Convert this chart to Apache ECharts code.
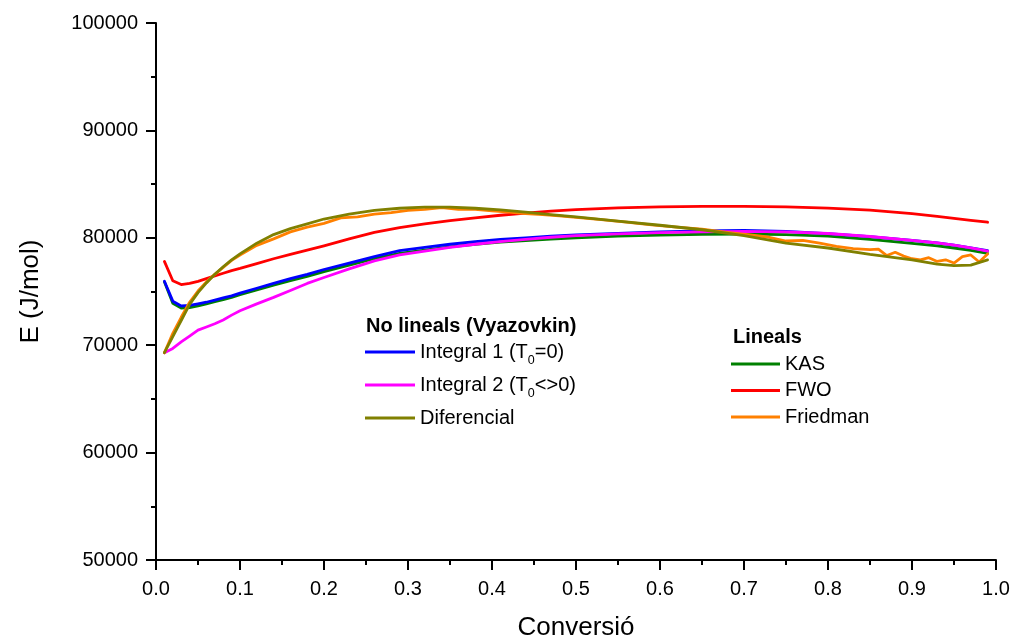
<!DOCTYPE html>
<html>
<head>
<meta charset="utf-8">
<script src="https://cdn.jsdelivr.net/npm/echarts@6/dist/echarts.min.js"></script>
<style>html,body{margin:0;padding:0;background:#fff}#c{width:1013px;height:637px}</style>
</head>
<body>
<div id="c"></div>
<script>
const X = [0.01,0.02,0.03,0.04,0.05,0.06,0.07,0.08,0.09,0.10,0.12,0.14,0.16,0.18,0.20,0.23,0.26,0.29,0.32,0.35,0.38,0.41,0.44,0.47,0.50,0.55,0.60,0.65,0.70,0.75,0.80,0.85,0.90,0.93,0.95,0.97,0.99];
const integral1 = [75950,74100,73650,73700,73850,74000,74200,74400,74600,74850,75300,75750,76200,76600,77050,77650,78250,78800,79100,79400,79650,79850,80000,80150,80280,80420,80550,80650,80680,80600,80380,80100,79770,79520,79320,79060,78800];
const integral2 = [69300,69700,70300,70850,71400,71700,72000,72350,72800,73200,73850,74450,75100,75750,76300,77100,77850,78400,78750,79100,79400,79650,79850,80050,80200,80370,80480,80560,80600,80550,80400,80120,79770,79520,79320,79060,78750];
const diferencial = [69300,70800,72300,73800,74900,75800,76600,77300,77950,78500,79500,80300,80850,81300,81750,82200,82550,82750,82850,82850,82750,82600,82400,82150,81950,81550,81170,80750,80200,79500,79050,78450,77950,77550,77400,77450,77950];
const kas = [75900,73900,73450,73500,73650,73850,74050,74250,74450,74700,75150,75600,76000,76400,76850,77450,78050,78550,78850,79150,79400,79600,79750,79880,80000,80150,80250,80330,80350,80300,80150,79850,79480,79250,79050,78820,78560];
const fwo = [77800,76000,75650,75750,75950,76200,76450,76700,76950,77150,77600,78050,78450,78850,79250,79900,80500,80950,81300,81600,81850,82100,82300,82480,82620,82780,82880,82930,82930,82880,82760,82580,82250,82000,81800,81620,81450];
const friedmanX = [0.01,0.02,0.03,0.04,0.05,0.06,0.07,0.08,0.09,0.10,0.12,0.14,0.16,0.18,0.20,0.22,0.24,0.26,0.28,0.30,0.32,0.34,0.36,0.38,0.40,0.42,0.44,0.46,0.48,0.50,0.53,0.56,0.59,0.62,0.65,0.68,0.71,0.73,0.75,0.77,0.79,0.81,0.83,0.85,0.86,0.87,0.88,0.89,0.90,0.91,0.92,0.93,0.94,0.95,0.96,0.97,0.98,0.99];
const friedman = [69300,71100,72600,74000,75050,75900,76600,77250,77900,78400,79300,79900,80550,81000,81350,81850,81950,82200,82350,82550,82650,82800,82650,82650,82500,82400,82250,82150,82050,81900,81700,81450,81200,81000,80800,80500,80250,80050,79700,79750,79500,79200,79000,78900,78950,78350,78650,78300,78050,77950,78150,77800,77950,77650,78250,78400,77750,78500];
const xTicks = {min: 0, max: 1, interval: 0.1};
const yTicks = {min: 50000, max: 100000, interval: 10000};
const names = {
  i1: 'Integral 1 (T0=0)', i2: 'Integral 2 (T0<>0)', dif: 'Diferencial',
  kas: 'KAS', fwo: 'FWO', fr: 'Friedman'
};

const FONT = 'Liberation Sans, Arial, sans-serif';
const pairs = (xs, ys) => xs.map((x, i) => [x, ys[i]]);
function mk(name, xs, ys, color, z) {
  return {
    name, type: 'line', data: pairs(xs, ys), showSymbol: false, symbol: 'none',
    smooth: false, z,
    lineStyle: {color, width: 2.8, join: 'round', cap: 'round'}, itemStyle: {color}
  };
}
const chart = echarts.init(document.getElementById('c'), null, {renderer: 'canvas'});
const legendText = {
  fontFamily: FONT, fontSize: 20, color: '#000', lineHeight: 22,
  rich: {
    n: {fontFamily: FONT, fontSize: 20, color: '#000', lineHeight: 22, verticalAlign: 'middle'},
    s: {fontFamily: FONT, fontSize: 12.5, color: '#000', lineHeight: 12, verticalAlign: 'bottom', padding: [0, 0, -4, 0]}
  }
};
chart.setOption({
  animation: false,
  backgroundColor: '#fff',
  grid: {left: 156, right: 17, top: 23, bottom: 77, containLabel: false, outerBoundsMode: 'none'},
  xAxis: {
    type: 'value', min: xTicks.min, max: xTicks.max, interval: xTicks.interval,
    name: 'Conversió', nameLocation: 'middle', nameGap: 55,
    nameTextStyle: {fontFamily: FONT, fontSize: 26, color: '#000'},
    axisLine: {show: true, onZero: false, lineStyle: {color: '#000', width: 2}},
    axisTick: {show: true, inside: false, length: 10, lineStyle: {color: '#000', width: 2}},
    minorTick: {show: true, splitNumber: 2, length: 5, lineStyle: {color: '#000', width: 2}},
    splitLine: {show: false},
    axisLabel: {fontFamily: FONT, fontSize: 20, color: '#000', margin: 19, formatter: v => v.toFixed(1)}
  },
  yAxis: {
    type: 'value', min: yTicks.min, max: yTicks.max, interval: yTicks.interval,
    name: 'E (J/mol)', nameLocation: 'middle', nameGap: 112, nameRotate: 90,
    nameTextStyle: {fontFamily: FONT, fontSize: 26, color: '#000'},
    axisLine: {show: true, onZero: false, lineStyle: {color: '#000', width: 2}},
    axisTick: {show: true, inside: false, length: 10, lineStyle: {color: '#000', width: 2}},
    minorTick: {show: true, splitNumber: 2, length: 5, lineStyle: {color: '#000', width: 2}},
    splitLine: {show: false},
    axisLabel: {fontFamily: FONT, fontSize: 20, color: '#000', margin: 18, formatter: v => String(v)}
  },
  legend: [
    {
      data: [names.i1, names.i2, names.dif], orient: 'vertical', left: 365, top: 341,
      icon: 'rect', itemWidth: 50, itemHeight: 3, itemGap: 7, selectedMode: false,
      textStyle: legendText, padding: 0,
      formatter: n => n === names.i1 ? '{n|Integral 1 (T}{s|0}{n|=0)}' : (n === names.i2 ? '{n|Integral 2 (T}{s|0}{n|<>0)}' : '{n|' + n + '}{s| }')
    },
    {
      data: [names.kas, names.fwo, names.fr], orient: 'vertical', left: 731, top: 353,
      icon: 'rect', itemWidth: 49, itemHeight: 3, itemGap: 4.5, selectedMode: false,
      textStyle: legendText, padding: 0,
      formatter: n => '{n|' + n + '}'
    }
  ],
  graphic: [
    {type: 'text', left: 366, top: 316, style: {text: 'No lineals (Vyazovkin)', font: 'bold 20px ' + FONT, fill: '#000'}},
    {type: 'text', left: 733, top: 327, style: {text: 'Lineals', font: 'bold 20px ' + FONT, fill: '#000'}}
  ],
  series: [
    mk(names.kas, X, kas, '#008000', 2),
    mk(names.i1, X, integral1, '#0000FF', 3),
    mk(names.i2, X, integral2, '#FF00FF', 4),
    mk(names.fwo, X, fwo, '#FF0000', 5),
    mk(names.fr, friedmanX, friedman, '#FF8000', 6),
    mk(names.dif, X, diferencial, '#808000', 7)
  ]
});
</script>
</body>
</html>
